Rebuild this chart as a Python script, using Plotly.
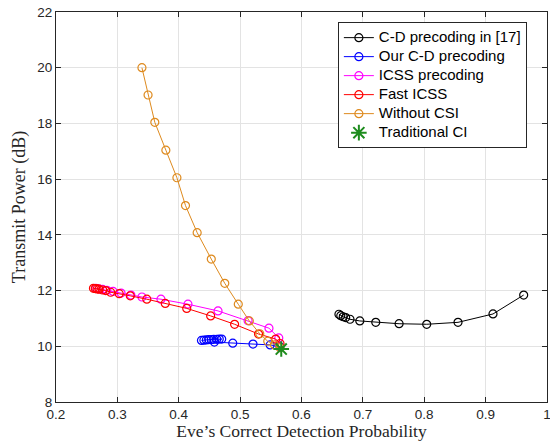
import plotly.graph_objects as go

# C-D precoding in [17]
cd17_x = [0.661, 0.664, 0.668, 0.672, 0.679, 0.695, 0.721, 0.759, 0.804, 0.855, 0.912, 0.962]
cd17_y = [11.15, 11.10, 11.06, 11.03, 10.97, 10.91, 10.86, 10.81, 10.79, 10.86, 11.16, 11.84]

# Our C-D precoding
ours_x = [0.565, 0.549, 0.521, 0.488, 0.458, 0.470, 0.466, 0.462, 0.457, 0.453, 0.449, 0.445, 0.441, 0.437]
ours_y = [9.98, 10.05, 10.08, 10.11, 10.15, 10.26, 10.26, 10.25, 10.25, 10.24, 10.24, 10.23, 10.22, 10.21]

# ICSS precoding
icss_x = [0.265, 0.270, 0.276, 0.283, 0.293, 0.306, 0.322, 0.340, 0.371, 0.415, 0.464, 0.513, 0.547, 0.563]
icss_y = [12.08, 12.06, 12.04, 12.01, 11.97, 11.91, 11.84, 11.77, 11.69, 11.51, 11.27, 10.92, 10.65, 10.30]

# Fast ICSS
fast_x = [0.261, 0.264, 0.267, 0.270, 0.276, 0.281, 0.289, 0.303, 0.321, 0.348, 0.378, 0.413, 0.452, 0.491, 0.530, 0.558, 0.565]
fast_y = [12.08, 12.07, 12.06, 12.05, 12.02, 12.00, 11.94, 11.89, 11.81, 11.69, 11.54, 11.36, 11.09, 10.79, 10.44, 10.26, 10.10]

# Without CSI
nocsi_x = [0.340, 0.350, 0.361, 0.379, 0.397, 0.411, 0.430, 0.453, 0.475, 0.497, 0.515, 0.532, 0.545, 0.556, 0.565]
nocsi_y = [20.0, 19.02, 18.04, 17.04, 16.05, 15.05, 14.08, 13.13, 12.26, 11.51, 10.91, 10.45, 10.18, 10.05, 9.95]

# Traditional CI
tci_x = [0.567]
tci_y = [9.9]

series_names = ["C-D precoding in [17]", "Our C-D precoding", "ICSS precoding",
                "Fast ICSS", "Without CSI", "Traditional CI"]

x_ticks = [0.2, 0.3, 0.4, 0.5, 0.6, 0.7, 0.8, 0.9, 1.0]
x_tick_labels = ["0.2", "0.3", "0.4", "0.5", "0.6", "0.7", "0.8", "0.9", "1"]
y_ticks = [8, 10, 12, 14, 16, 18, 20, 22]

def leg(name):
    return '<span style="font-size:15px">' + name + '</span>'

fig = go.Figure()

def add_series(x, y, name, color):
    fig.add_trace(go.Scatter(
        x=x, y=y, name=leg(name), mode="lines+markers",
        line=dict(color=color, width=1),
        marker=dict(symbol="circle-open", size=8, color=color, line=dict(width=1.2, color=color)),
    ))

add_series(cd17_x, cd17_y, series_names[0], "#000000")
add_series(ours_x, ours_y, series_names[1], "#0000FF")
add_series(icss_x, icss_y, series_names[2], "#FF00FF")
add_series(fast_x, fast_y, series_names[3], "#FF0000")
add_series(nocsi_x, nocsi_y, series_names[4], "#DE8A1E")

fig.add_trace(go.Scatter(
    x=tci_x, y=tci_y, name=leg(series_names[5]), mode="markers",
    marker=dict(symbol="asterisk-open", size=13, color="#1E8C1E", line=dict(width=2, color="#1E8C1E")),
))

axis_common = dict(
    showgrid=True, gridcolor="#E3E3E3", gridwidth=1,
    showline=True, linecolor="#262626", linewidth=1, mirror="ticks",
    ticks="inside", ticklen=5, tickcolor="#262626",
    zeroline=False, automargin=False, ticklabeloverflow="allow",
    tickfont=dict(family="Liberation Sans, Arial, sans-serif", size=13.5, color="#262626"),
)

fig.update_xaxes(
    range=[0.2, 1.0], tickvals=x_ticks, ticktext=x_tick_labels,
    title=dict(text="Eve’s Correct Detection Probability",
               font=dict(family="Liberation Serif, Times New Roman, serif", size=17.5, color="#262626")),
    **axis_common,
)
fig.update_yaxes(
    range=[8, 22], tickvals=y_ticks,
    title=dict(text="Transmit Power (dB)", standoff=6,
               font=dict(family="Liberation Serif, Times New Roman, serif", size=18, color="#262626")),
    **axis_common,
)

fig.update_layout(
    width=550, height=441,
    margin=dict(l=56, r=3, t=12, b=39),
    paper_bgcolor="white", plot_bgcolor="white",
    showlegend=True,
    legend=dict(
        x=0.959, y=0.974, xanchor="right", yanchor="top",
        bgcolor="white", bordercolor="#262626", borderwidth=1,
        font=dict(family="Liberation Sans, Arial, sans-serif", size=12, color="#000000"),
        tracegroupgap=0, itemwidth=30,
    ),
)

fig.write_html("out.html", config={"displayModeBar": False},
               post_script="document.body.style.margin='0';document.body.style.overflow='hidden';")
